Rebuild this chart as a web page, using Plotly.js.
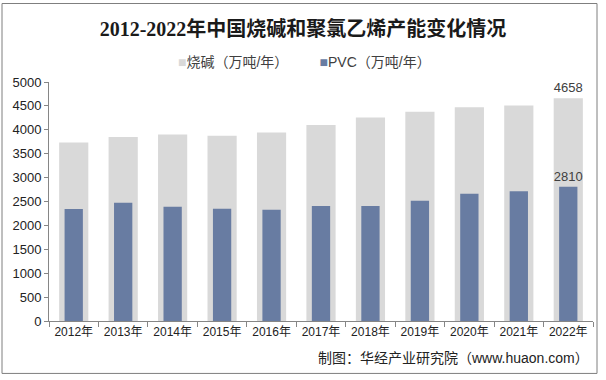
<!DOCTYPE html>
<html><head><meta charset="utf-8">
<script src="https://cdn.plot.ly/plotly-3.0.1.min.js"></script>
<style>html,body{margin:0;padding:0;background:#fff;}#chart{width:606px;height:380px;}</style>
</head><body><div id="chart"></div>
<script>
const years = ['2012年','2013年','2014年','2015年','2016年','2017年','2018年','2019年','2020年','2021年','2022年'];
const causticSoda = [3736, 3850, 3900, 3873, 3945, 4102, 4259, 4380, 4470, 4508, 4658];
const pvc = [2341, 2476, 2389, 2348, 2326, 2406, 2404, 2518, 2664, 2713, 2810];
const seriesNames = ['烧碱（万吨/年）', 'PVC（万吨/年）'];
const seriesColors = ['#D9D9D9', '#687CA2'];
const yTicks = [0, 500, 1000, 1500, 2000, 2500, 3000, 3500, 4000, 4500, 5000];

const lastLabel = arr => arr.map((v, i) => i === arr.length - 1 ? String(v) : '');

const FONT = 'Liberation Sans, Arial, Noto Sans CJK SC, sans-serif';
const data = [
  {type:'bar', x: years, y: causticSoda, name: seriesNames[0], width: 0.59,
   marker:{color: seriesColors[0]}, text: lastLabel(causticSoda), textposition:'outside', constraintext:'none',
   textfont:{family:FONT, size:13, color:'#404040'}, cliponaxis:false, hoverinfo:'none', showlegend:false},
  {type:'bar', x: years, y: pvc, name: seriesNames[1], width: 0.37,
   marker:{color: seriesColors[1]}, text: lastLabel(pvc), textposition:'outside', constraintext:'none',
   textfont:{family:FONT, size:13, color:'#404040'}, cliponaxis:false, hoverinfo:'none', showlegend:false}
];

const L = 49, R = 593, T = 82.3, B = 320.7;
const px = x => (x - L) / (R - L);
const py = y => (B - y) / (B - T);

const legendText = seriesNames.map((n, i) =>
  '<span style="color:' + seriesColors[i] + '">■</span>' + n).join('        ');

const layout = {
  width: 606, height: 380,
  margin: {l: L, r: 606 - R, t: T, b: 380 - B},
  paper_bgcolor: '#fff', plot_bgcolor: '#fff',
  barmode: 'overlay',
  showlegend: false,
  title: {text: '2012-2022年中国烧碱和聚氯乙烯产能变化情况', x: 0.5, xanchor: 'center', y: 1 - 29/380, yanchor: 'middle',
          font: {family: 'Liberation Serif, Noto Sans CJK SC, serif', size: 20, color: '#1a1a1a', weight: 'bold'}},
  xaxis: {type: 'category', tickson: 'boundaries', ticks: 'outside', ticklen: 5, tickcolor: '#868686',
          showline: true, linecolor: '#868686', linewidth: 1, showgrid: false, zeroline: false,
          tickfont: {family: FONT, size: 12, color: '#222'}, fixedrange: true},
  yaxis: {range: [0, 5000], tickvals: yTicks, ticks: 'outside', ticklen: 4, tickcolor: '#868686',
          showline: true, linecolor: '#868686', linewidth: 1, showgrid: false, zeroline: false,
          tickfont: {family: FONT, size: 13, color: '#222'}, fixedrange: true},
  shapes: [
    {type: 'rect', xref: 'paper', yref: 'paper', x0: px(2), x1: px(597), y0: py(373), y1: py(4),
     line: {color: '#7f7f7f', width: 1}, fillcolor: 'rgba(0,0,0,0)', layer: 'below'}
  ],
  annotations: [
    {xref: 'paper', yref: 'paper', x: px(304), y: py(62), xanchor: 'center', yanchor: 'middle', showarrow: false,
     text: legendText, font: {family: FONT, size: 14, color: '#404040'}},
    {xref: 'paper', yref: 'paper', x: px(591), y: py(358), xanchor: 'right', yanchor: 'middle', showarrow: false,
     text: '制图：华经产业研究院（www.huaon.com）', font: {family: FONT, size: 14, color: '#222'}}
  ]
};

Plotly.newPlot('chart', data, layout, {staticPlot: true, displayModeBar: false});
</script></body></html>
